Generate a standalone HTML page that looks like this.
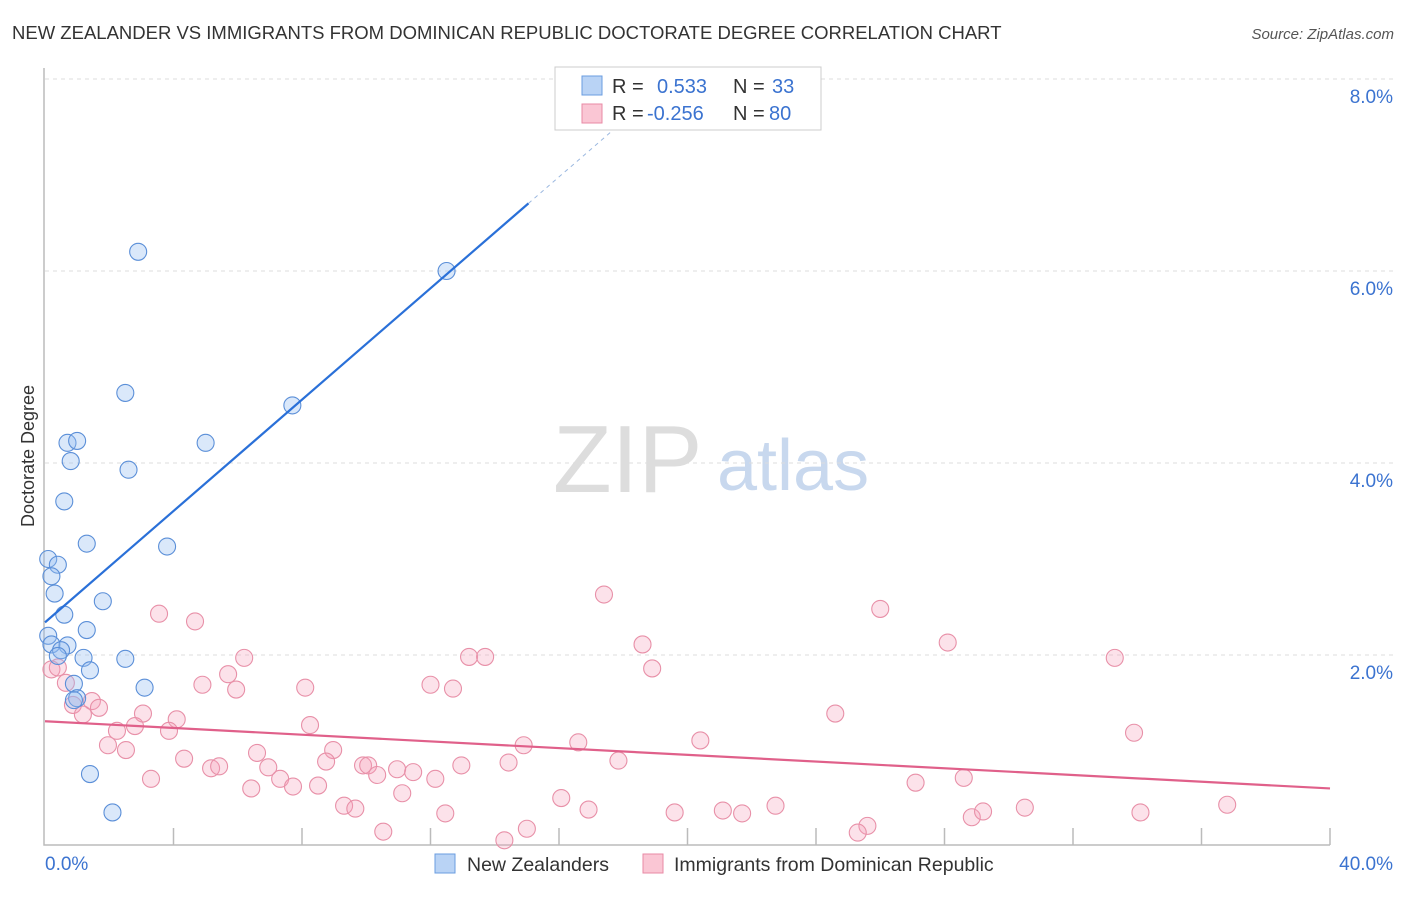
<!DOCTYPE html>
<html><head><meta charset="utf-8"><style>
body{margin:0;background:#fff;font-family:"Liberation Sans",sans-serif;}
svg text{font-family:"Liberation Sans",sans-serif;}
</style></head><body>
<svg width="1406" height="892" id="c">
<text x="12" y="39" font-size="18.5" fill="#333">NEW ZEALANDER VS IMMIGRANTS FROM DOMINICAN REPUBLIC DOCTORATE DEGREE CORRELATION CHART</text>
<text x="1394" y="39" font-size="15" fill="#555" font-style="italic" text-anchor="end">Source: ZipAtlas.com</text>
<text x="34" y="456" font-size="18" fill="#333" text-anchor="middle" transform="rotate(-90 34 456)">Doctorate Degree</text>
<text x="553" y="492" font-size="96" fill="#ddd" font-family="Liberation Serif">ZIP</text>
<text x="717" y="490" font-size="72" fill="#c8d8ee">atlas</text>
<g id="grid"></g><g id="pts"></g><g id="lines"></g>
<g>
<rect x="555" y="67" width="266" height="63" fill="#fff" stroke="#ccc"/>
<rect x="582" y="76" width="20" height="19" fill="#b9d3f5" stroke="#6a9de0"/>
<rect x="582" y="104" width="20" height="19" fill="#fac6d4" stroke="#e88aa5"/>
<text x="612" y="93" font-size="20" fill="#333">R = </text><text x="657" y="93" font-size="20" fill="#3b73d0">0.533</text>
<text x="733" y="93" font-size="20" fill="#333">N = </text><text x="772" y="93" font-size="20" fill="#3b73d0">33</text>
<text x="612" y="120" font-size="20" fill="#333">R = </text><text x="647" y="120" font-size="20" fill="#3b73d0">-0.256</text>
<text x="733" y="120" font-size="20" fill="#333">N = </text><text x="769" y="120" font-size="20" fill="#3b73d0">80</text>
</g>
<g>
<rect x="435" y="854" width="20" height="19" fill="#b9d3f5" stroke="#6a9de0"/>
<text x="467" y="871" font-size="19.5" fill="#333">New Zealanders</text>
<rect x="643" y="854" width="20" height="19" fill="#fac6d4" stroke="#e88aa5"/>
<text x="674" y="871" font-size="19.5" fill="#333">Immigrants from Dominican Republic</text>
</g>
<text x="45" y="870" font-size="19" fill="#3b73d0">0.0%</text>
<text x="1393" y="870" font-size="19" fill="#3b73d0" text-anchor="end">40.0%</text>
</svg>
<script>
const yTicks=[2,4,6,8];
const blueX=[2.9,12.5,2.5,7.7,5.0,0.7,1.0,0.8,2.6,0.6,1.3,3.8,0.1,0.4,0.2,0.3,1.8,0.6,1.3,0.1,0.2,0.7,0.5,1.2,2.5,0.4,1.4,0.9,1.0,3.1,0.9,1.4,2.1];
const blueY=[6.2,6.0,4.73,4.6,4.21,4.21,4.23,4.02,3.93,3.6,3.16,3.13,3.0,2.94,2.82,2.64,2.56,2.42,2.26,2.2,2.11,2.1,2.05,1.97,1.96,1.99,1.84,1.7,1.55,1.66,1.53,0.76,0.36];
const pinkX=[3.55,4.67,17.4,26.0,28.1,18.6,33.3,6.2,13.2,13.7,18.9,0.2,0.4,4.9,5.7,5.95,8.1,12.0,12.7,0.65,1.46,0.87,1.68,1.18,3.05,4.1,24.6,33.9,2.24,2.8,3.86,8.25,1.96,2.52,14.9,16.6,20.4,6.6,8.97,4.33,5.17,5.42,6.95,8.75,9.9,10.06,10.96,11.46,12.96,14.43,17.85,3.3,7.32,10.34,12.15,6.42,7.72,8.5,27.1,28.6,11.12,9.31,9.66,16.07,16.92,12.46,19.6,21.1,21.7,22.74,28.85,29.2,30.5,34.1,36.8,10.53,15.0,25.6,25.3,14.3];
const pinkY=[2.43,2.35,2.63,2.48,2.13,2.11,1.97,1.97,1.98,1.98,1.86,1.85,1.87,1.69,1.8,1.64,1.66,1.69,1.65,1.71,1.52,1.48,1.45,1.38,1.39,1.33,1.39,1.19,1.21,1.26,1.21,1.27,1.06,1.01,1.06,1.09,1.11,0.98,1.01,0.92,0.82,0.84,0.83,0.89,0.85,0.85,0.81,0.78,0.85,0.88,0.9,0.71,0.71,0.75,0.71,0.61,0.63,0.64,0.67,0.72,0.56,0.43,0.4,0.51,0.39,0.35,0.36,0.38,0.35,0.43,0.31,0.37,0.41,0.36,0.44,0.16,0.19,0.22,0.15,0.07];
const X0=45,X1=1330,Y0=847;
const xs=v=>X0+(X1-X0)*v/40, ys=v=>Y0-96*v;
const NS='http://www.w3.org/2000/svg';
function mk(t,a,p){const e=document.createElementNS(NS,t);for(const k in a)e.setAttribute(k,a[k]);p.appendChild(e);return e;}
const g=document.getElementById('grid');
yTicks.forEach(t=>{
 const l=mk('line',{x1:45,x2:1394,y1:ys(t),y2:ys(t),stroke:'#ddd','stroke-dasharray':'4,4'},g);
 
 
 const tx=mk('text',{x:1393,y:ys(t)+24,'font-size':19,fill:'#3b73d0','text-anchor':'end'},g);
 tx.textContent=t.toFixed(1)+'%';
 
 
});
const ax=mk('path',{d:'M44 68 V845 H1330',fill:'none',stroke:'#bbb','stroke-width':1.5},g);


for(let i=1;i<=10;i++){const t=mk('line',{x1:xs(i*4),x2:xs(i*4),y1:828,y2:845,stroke:'#bbb','stroke-width':1.5},g);
 
 }
const p=document.getElementById('pts');
pinkX.forEach((x,i)=>{const c=mk('circle',{cx:xs(x),cy:ys(pinkY[i]),r:8.5,fill:'rgba(245,160,185,0.3)',stroke:'#e890a8','stroke-width':1.1},p);
 
 });
blueX.forEach((x,i)=>{const c=mk('circle',{cx:xs(x),cy:ys(blueY[i]),r:8.5,fill:'rgba(150,190,240,0.35)',stroke:'#5b8fd8','stroke-width':1.1},p);
 
 });
const L=document.getElementById('lines');
const bf=x=>2.34+0.29*x, pf=x=>1.31-0.0175*x;
let e=mk('line',{x1:xs(0),y1:ys(bf(0)),x2:xs(15.05),y2:ys(bf(15.05)),stroke:'#2a70d8','stroke-width':2.2},L);


e=mk('line',{x1:xs(15.05),y1:ys(bf(15.05)),x2:xs(19.3),y2:ys(bf(19.3)),stroke:'#9bb8e0','stroke-width':1,'stroke-dasharray':'4,4'},L);


e=mk('line',{x1:xs(0),y1:ys(pf(0)),x2:xs(40),y2:ys(pf(40)),stroke:'#e0608a','stroke-width':2.2},L);


</script>
</body></html>
